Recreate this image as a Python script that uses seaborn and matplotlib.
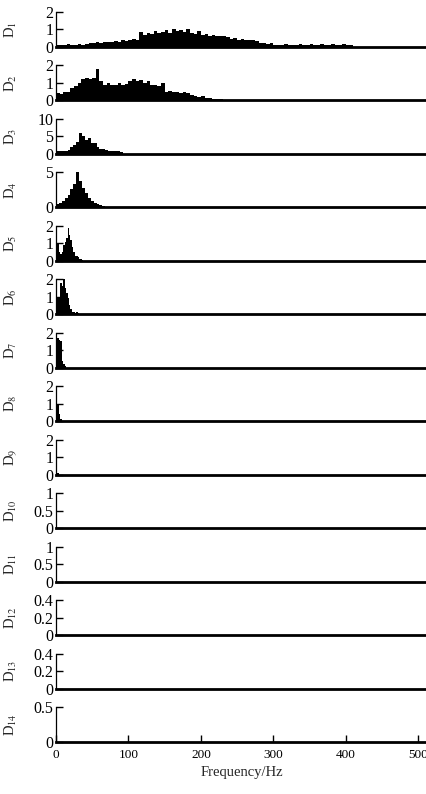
import numpy as np
import pandas as pd
import matplotlib
matplotlib.use("Agg")
import matplotlib.pyplot as plt
import seaborn as sns

# Spectrum of each decomposed component D1..D14.
# Each list holds the amplitude per frequency bin, starting at 0 Hz.
d1_step = 5
d1_vals = [0.1, 0.12, 0.1, 0.15, 0.1, 0.12, 0.18, 0.12, 0.15, 0.2,
           0.2, 0.25, 0.22, 0.3, 0.25, 0.3, 0.35, 0.3, 0.4, 0.35, 0.4, 0.45, 0.42,
           0.85, 0.7, 0.8, 0.75, 0.9, 0.8, 0.85, 0.95, 0.8, 1.0, 0.9, 0.95, 0.85, 1.0, 0.8,
           0.75, 0.9, 0.7, 0.75, 0.65, 0.7, 0.6, 0.65, 0.6, 0.55,
           0.45, 0.5, 0.4, 0.45, 0.4, 0.38, 0.4, 0.35,
           0.2, 0.22, 0.18, 0.2,
           0.1, 0.12, 0.1, 0.15, 0.1, 0.12, 0.1, 0.15, 0.1, 0.12, 0.15,
           0.1, 0.12, 0.15, 0.1, 0.12, 0.15, 0.1, 0.12, 0.15, 0.1, 0.08]

d2_step = 5
d2_vals = [0.4, 0.35, 0.45, 0.5,
           0.7, 0.8, 1.0, 1.2, 1.3, 1.2, 1.3, 1.8,
           1.1, 0.9, 1.0, 0.85, 0.9, 1.0, 0.9, 0.95,
           1.1, 1.2, 1.1, 1.15, 1.0, 1.1,
           0.85, 0.9, 0.8, 1.0,
           0.5, 0.55, 0.45, 0.5, 0.4, 0.45, 0.4,
           0.3, 0.25, 0.2, 0.22, 0.15, 0.12, 0.1, 0.08, 0.05]

d3_step = 4
d3_vals = [0.8, 0.8, 0.9, 0.8, 1.2, 2.0, 2.5, 3.5, 6.0, 5.0, 4.0, 4.5,
           3.0, 3.2, 2.0, 1.5, 1.3, 1.2, 0.8, 0.8, 0.8, 0.7, 0.6]

d4_step = 4
d4_vals = [0.5, 0.6, 0.9, 1.3, 1.8, 2.6, 3.4, 5.0, 3.8, 2.8, 2.0, 1.3,
           0.9, 0.6, 0.4, 0.3, 0.2]

d5_step = 2
d5_vals = [0.9, 1.0, 0.5, 0.4, 0.5, 0.9, 1.1, 1.3, 1.9, 1.5, 1.2, 0.8,
           0.5, 0.3, 0.25, 0.2, 0.12, 0.1, 0.05]

d6_step = 2
d6_vals = [0.7, 0.9, 1.0, 1.8, 1.6, 2.1, 1.5, 1.2, 0.9, 0.5, 0.3, 0.15,
           0.1, 0.05, 0.1, 0.05]

d7_step = 2
d7_vals = [1.8, 1.7, 1.6, 1.5, 0.4, 0.2, 0.1]

d8_step = 2
d8_vals = [1.3, 0.9, 0.4, 0.1]

d9_step = 2
d9_vals = [0.3, 0.1]

# D10..D14 carry nothing visible at this scale
d_empty = []

panel_names = ["D$_{%d}$" % i for i in range(1, 15)]
panel_data = [(d1_step, d1_vals), (d2_step, d2_vals), (d3_step, d3_vals),
              (d4_step, d4_vals), (d5_step, d5_vals), (d6_step, d6_vals),
              (d7_step, d7_vals), (d8_step, d8_vals), (d9_step, d9_vals),
              (1, d_empty), (1, d_empty), (1, d_empty), (1, d_empty), (1, d_empty)]
y_ticks = [[0, 1, 2], [0, 1, 2], [0, 5, 10], [0, 5], [0, 1, 2], [0, 1, 2],
           [0, 1, 2], [0, 1, 2], [0, 1, 2], [0, 0.5, 1], [0, 0.5, 1],
           [0, 0.2, 0.4], [0, 0.2, 0.4], [0, 0.5]]
x_ticks = [0, 100, 200, 300, 400, 500]

sns.set_style("ticks")
plt.rcParams["font.family"] = ["Liberation Serif", "DejaVu Serif"]
plt.rcParams["mathtext.fontset"] = "stix"
plt.rcParams["axes.edgecolor"] = "black"
plt.rcParams["xtick.color"] = "black"
plt.rcParams["ytick.color"] = "black"

fig, axes = plt.subplots(14, 1, figsize=(4.27, 7.94), dpi=100, sharex=True)
fig.subplots_adjust(left=0.131, right=1.0, top=0.985, bottom=0.0655, hspace=0.53)

for i, ax in enumerate(axes):
    step, vals = panel_data[i]
    if len(vals) > 0:
        df = pd.DataFrame({"freq": np.arange(len(vals)) * step + step / 2, "amp": vals})
        sns.histplot(data=df, x="freq", weights="amp",
                     binwidth=step, binrange=(0, len(vals) * step),
                     color="black", alpha=1, linewidth=0, element="bars", ax=ax)
    ax.set_xlim(0, 512)
    ax.set_ylim(0, y_ticks[i][-1])
    ax.set_yticks(y_ticks[i])
    ax.set_yticklabels([("%g" % t) for t in y_ticks[i]], fontsize=11.5)
    ax.set_ylabel(panel_names[i], fontsize=10.5, rotation=90)
    ax.yaxis.set_label_coords(-0.1, 0.5)
    for s in ["top", "right"]:
        ax.spines[s].set_visible(False)
    ax.spines["left"].set_linewidth(0.9)
    ax.spines["bottom"].set_linewidth(2.0)
    ax.tick_params(axis="y", direction="in", length=5, width=1.0, pad=2)
    if i < 13:
        ax.tick_params(axis="x", bottom=False, labelbottom=False)
        ax.set_xlabel("")

ax = axes[-1]
ax.set_xticks(x_ticks)
ax.set_xticklabels([str(t) for t in x_ticks], fontsize=9.5)
ax.tick_params(axis="x", direction="in", length=5, width=1.0, pad=5)
ax.set_xlabel("Frequency/Hz", fontsize=10.5)

fig.savefig("out.png", dpi=100)
